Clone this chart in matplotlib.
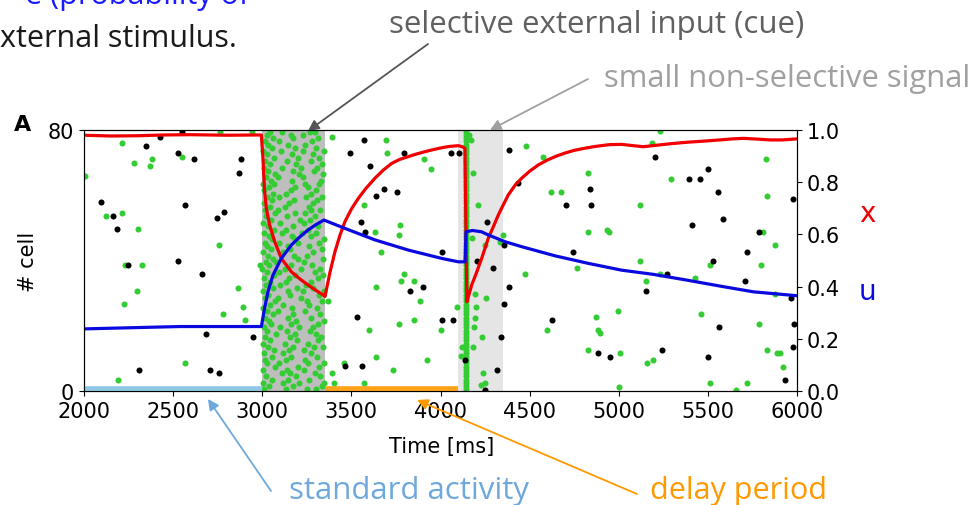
import numpy as np
import matplotlib
matplotlib.use("Agg")
import matplotlib.pyplot as plt

# ---------------- data ----------------
x_t = [2000, 2150, 2300, 2450, 2600, 2800, 2995, 3004, 3013, 3023, 3041, 3070, 3107, 3163, 3210, 3257,
       3300, 3346, 3352, 3380, 3408, 3436, 3464, 3500, 3539, 3580, 3632, 3680, 3726, 3770, 3819, 3860,
       3913, 3960, 4007, 4050, 4100, 4125, 4137, 4148, 4160, 4175, 4200, 4231, 4268, 4300, 4324, 4350,
       4380, 4420, 4455, 4500, 4548, 4600, 4650, 4700, 4750, 4800, 4850, 4900, 4950, 5016, 5080,
       5138, 5231, 5300, 5381, 5470, 5568, 5640, 5699, 5780, 5848, 5920, 6000]
x_val = [0.980, 0.977, 0.978, 0.981, 0.982, 0.980, 0.981, 0.89, 0.764, 0.70, 0.636, 0.572, 0.508, 0.457,
         0.43, 0.406, 0.386, 0.366, 0.362, 0.455, 0.534, 0.597, 0.649, 0.697, 0.738, 0.775, 0.815, 0.847,
         0.872, 0.887, 0.898, 0.907, 0.917, 0.925, 0.932, 0.937, 0.94, 0.935, 0.93, 0.342, 0.37, 0.406,
         0.45, 0.508, 0.585, 0.635, 0.674, 0.71, 0.751, 0.79, 0.815, 0.842, 0.866, 0.885, 0.9, 0.912,
         0.922, 0.929, 0.935, 0.94, 0.944, 0.945, 0.94, 0.936, 0.943, 0.948, 0.953, 0.957, 0.962, 0.966,
         0.968, 0.965, 0.962, 0.962, 0.966]

u_t = [2000, 2538, 2995, 3013, 3032, 3060, 3107, 3163, 3210, 3257, 3300, 3346,
       3464, 3632, 3819, 4007, 4100, 4138, 4143, 4180, 4230, 4268, 4362, 4455, 4642, 4829, 5016,
       5193, 5381, 5568, 5755, 6000]
u_val = [0.238, 0.247, 0.247, 0.317, 0.38, 0.444, 0.508, 0.559, 0.59, 0.617, 0.637, 0.655,
         0.623, 0.579, 0.54, 0.508, 0.495, 0.495, 0.61, 0.615, 0.61, 0.598, 0.572, 0.553, 0.518, 0.489,
         0.463, 0.447, 0.425, 0.402, 0.38, 0.365]

black_t = [2548, 2426, 2346, 2525, 2615, 2881, 2870, 2095, 2567, 2165, 2785, 2746, 2183, 2247, 2525,
           2660, 2683, 2946, 2310, 2707, 2757, 3571, 3492, 3795, 4059, 4102, 3605, 3681, 3638, 3754,
           3554, 3578, 4008, 3829, 3902, 3530, 4008, 4070, 3462, 3559, 4137, 4386, 4433, 4261, 4355,
           4205, 4294, 4383, 4355, 4340, 4318, 4251, 4837, 4706, 4846, 4743, 4627, 4881, 4950, 5203,
           5502, 5396, 5454, 5557, 5976, 5411, 5587, 5789, 5718, 5529, 5269, 5708, 5154, 5968, 5562,
           5981, 5244, 5502, 5976, 5935]
black_cell = [79.5, 78.0, 75.0, 73.0, 71.1, 71.1, 66.8, 57.9, 56.9, 53.7, 54.8, 52.9, 49.7, 38.7, 39.7,
              35.8, 17.6, 16.6, 6.3, 6.3, 5.5, 76.9, 73.0, 73.0, 73.0, 73.0, 68.9, 62.0, 59.9, 60.9,
              51.8, 48.8, 42.7, 30.7, 31.8, 22.7, 21.7, 21.7, 7.6, 7.6, 9.6, 74.0, 63.9, 51.8, 44.8,
              39.7, 37.6, 31.8, 26.7, 16.6, 6.3, 0.4, 62.0, 56.9, 56.9, 42.7, 21.7, 11.5, 10.5, 71.8,
              67.9, 65.0, 65.0, 60.9, 58.8, 50.8, 52.8, 48.8, 42.7, 39.7, 35.8, 33.7, 30.7, 28.5, 19.5,
              20.5, 12.5, 10.5, 13.6, 3.5]

green_t = [2213, 2281, 2380, 2370, 2552, 2004, 2122, 2215, 2301, 2757, 2230, 2325, 2295, 2226, 2864,
           2894, 2782, 2903, 2567, 2193, 2761, 2941, 2987, 3389, 3696, 3702, 3907, 3947, 3569, 3775,
           3765, 3634, 3668, 3795, 3780, 3853, 3638, 3883, 3369, 4094, 3600, 3765, 3853, 4004, 3457,
           3638, 3735, 3926, 3393, 3404, 3571, 4118, 4480, 4573, 4829, 4618, 4676, 4212, 4181, 4829,
           4935, 4945, 4349, 4334, 4178, 4250, 4766, 4474, 4255, 4193, 4201, 4195, 4190, 4185, 4994,
           4871, 4597, 4881, 4895, 4231, 4829, 5009, 4240, 4250, 4227, 5003, 4115, 4160, 4170,
           5231, 5188, 5826, 5291, 5830, 5121, 5811, 5878, 5117, 5512, 5796, 5233, 5151, 5429, 5874,
           5463, 5789, 5190, 5160, 5830, 5885, 5906, 5919, 5512, 5659, 5718]
green_cell = [75.9, 70.0, 71.0, 69.0, 71.8, 66.0, 53.7, 54.7, 49.7, 44.8, 38.7, 38.7, 30.7, 26.7, 31.7,
              25.6, 23.5, 21.7, 8.6, 3.5, 79.5, 79.3, 38.7, 78.0, 76.9, 73.0, 71.0, 67.9, 56.9, 50.9,
              47.8, 48.8, 42.7, 35.8, 33.7, 33.7, 31.8, 27.5, 27.5, 25.6, 18.7, 20.5, 21.7, 18.7, 8.6,
              10.5, 6.3, 9.6, 5.5, 2.5, 2.5, 13.6, 75.0, 71.8, 66.7, 60.9, 60.9, 56.9, 66.7, 48.8,
              49.5, 48.8, 47.8, 45.6, 46.8, 44.8, 37.6, 35.8, 28.6, 29.6, 25.6, 22.5, 19.5, 13.6, 24.6,
              22.7, 18.7, 18.7, 17.7, 16.6, 12.5, 11.5, 5.5, 2.5, 1.8, 1.3, 10.6, 78.5, 77.0,
              79.7, 75.9, 71.0, 65.0, 59.9, 56.9, 48.8, 44.8, 39.7, 38.7, 38.7, 35.8, 33.7, 34.7, 29.6,
              23.5, 20.5, 9.6, 8.6, 12.5, 11.5, 11.5, 7.4, 2.5, 0.4, 2.5]

# cue period spikes (ms after cue onset), one row per cell 0..79
cue_onset = 3000
cue_offsets = [
    [12, 133, 250, 301], [38, 171, 336], [5, 118, 204, 344], [57, 146, 263],
    [21, 187, 322], [109, 158, 296], [3, 140, 233], [71, 199, 318],
    [29, 94, 254, 347], [15, 136, 241], [52, 164, 305], [8, 119, 276],
    [66, 148, 237], [33, 170, 290, 342], [2, 129, 258], [44, 197, 315],
    [18, 153, 328], [75, 182, 299], [26, 141, 266], [9, 97, 205, 284],
    [49, 160, 312], [36, 189, 346], [13, 145, 271], [62, 174, 325],
    [24, 86, 239], [4, 167, 308], [42, 116, 262], [69, 251, 333],
    [17, 90, 215], [31, 156, 320], [6, 143, 226, 348], [58, 194, 286],
    [22, 99, 245], [46, 134, 274], [11, 151, 310], [65, 185, 343],
    [28, 95, 298], [1, 127, 218, 323], [40, 162, 279], [19, 76, 232],
    [63, 201, 341], [34, 177, 249], [7, 115, 283], [50, 158, 335],
    [25, 144, 264], [14, 93, 203, 319], [56, 181, 347], [37, 166, 272],
    [10, 110, 221, 300], [67, 135, 259], [30, 170, 314], [3, 98, 234],
    [48, 211, 268], [21, 138, 296], [72, 186, 240], [16, 91, 276, 322],
    [43, 128, 260], [8, 152, 287], [54, 178, 309], [27, 96, 248, 333],
    [60, 132, 271], [12, 161, 302], [39, 184, 258], [2, 68, 242, 317],
    [51, 169, 328], [23, 89, 230], [70, 207, 340], [35, 175, 292],
    [9, 111, 220, 307], [45, 188, 336], [18, 137, 273], [64, 200, 318],
    [29, 165, 285], [5, 104, 227, 347], [52, 183, 304], [32, 146, 238],
    [13, 92, 280], [58, 171, 312], [24, 159, 229], [41, 113, 269, 297],
]
# synchronous population spike after the non-selective signal (all cells)
sync_time = 4142
n_cells = 80

cue_period = (3000, 3350)
signal_period = (4100, 4350)
standard_period = (2000, 3000)
delay_period = (3350, 4100)

# ---------------- figure ----------------
W, H = 977, 506
fig = plt.figure(figsize=(W / 100, H / 100), dpi=100)
fig.patch.set_facecolor("white")

ax = fig.add_axes([84 / W, 114 / H, 713 / W, 261 / H])
ax.set_xlim(2000, 6000)
ax.set_ylim(0, 80)

ax.axvspan(*cue_period, color="#bebebe", lw=0, zorder=0)
ax.axvspan(*signal_period, color="#e5e5e5", lw=0, zorder=0)

green = "#33cc33"
ms = 19
cue_t = [cue_onset + o for row in cue_offsets for o in row]
cue_c = [i + 0.5 for i, row in enumerate(cue_offsets) for _ in row]
ax.scatter(cue_t, cue_c, s=ms, color=green, lw=0, zorder=2)
ax.scatter([sync_time] * n_cells, [i + 0.5 for i in range(n_cells)], s=ms, color=green, lw=0, zorder=2)
ax.scatter(green_t, green_cell, s=ms, color=green, lw=0, zorder=2)
ax.scatter(black_t, black_cell, s=ms, color="black", lw=0, zorder=2)

ax.plot(standard_period, [0, 0], color="#8ec8e6", lw=7, solid_capstyle="butt", zorder=3)
ax.plot(delay_period, [0, 0], color="#ffa31a", lw=7, solid_capstyle="butt", zorder=3)

ax.set_xticks(np.arange(2000, 6001, 500))
ax.set_yticks([0, 80])
ax.tick_params(labelsize=15)

ax2 = ax.twinx()
ax2.set_ylim(0, 1.0)
ax2.set_yticks(np.arange(0, 1.01, 0.2))
ax2.set_yticklabels([f"{v:.1f}" for v in np.arange(0, 1.01, 0.2)])
ax2.tick_params(labelsize=15)
ax2.plot(x_t, x_val, color="#f00000", lw=2.3)
ax2.plot(u_t, u_val, color="#0a0ae0", lw=2.3)

# axis texts
def px(xp, yp):
    return (xp / W, 1 - yp / H)

fig.text(*px(28, 262), "# cell", rotation=90, ha="center", va="center", fontsize=15)
fig.text(*px(442, 447), "Time [ms]", ha="center", va="center", fontsize=15)
fig.text(*px(14, 131), "A", ha="left", va="baseline", fontsize=16, fontweight="bold")
fig.text(*px(867, 214), "x", ha="center", va="center", fontsize=20, color="#f00000")
fig.text(*px(867, 292), "u", ha="center", va="center", fontsize=20, color="#0a0ae0")

# slide annotations
sf = "Open Sans"
fig.text(*px(597, 33), "selective external input (cue)", ha="center", va="baseline",
         fontsize=22.5, color="#606060", family=sf)
fig.text(*px(604, 87), "small non-selective signal", ha="left", va="baseline",
         fontsize=22.3, color="#a0a0a0", family=sf)
fig.text(*px(0, 47), "xternal stimulus.", ha="left", va="baseline",
         fontsize=22, color="#1a1a1a", family=sf)
fig.text(*px(25, 4), "e (probability of", ha="left", va="baseline",
         fontsize=22, color="#1a1aff", family=sf)
fig.text(*px(289, 499), "standard activity", ha="left", va="baseline",
         fontsize=22.5, color="#6fa8dc", family=sf)
fig.text(*px(650, 499), "delay period", ha="left", va="baseline",
         fontsize=22, color="#ff9900", family=sf)

def arrow(tip, tail, color):
    ax.annotate("", xy=tip, xycoords="figure pixels", xytext=tail, textcoords="figure pixels",
                arrowprops=dict(arrowstyle="-|>", color=color, lw=1.3, mutation_scale=16,
                                shrinkA=0, shrinkB=0), annotation_clip=False)

arrow((308, H - 132), (428, H - 45), "#555555")
arrow((490, H - 131), (588, H - 80), "#a0a0a0")
arrow((208, H - 400), (271, H - 492), "#6fa8dc")
arrow((417, H - 401), (637, H - 495), "#ff9900")

fig.savefig("out.png", dpi=100)
